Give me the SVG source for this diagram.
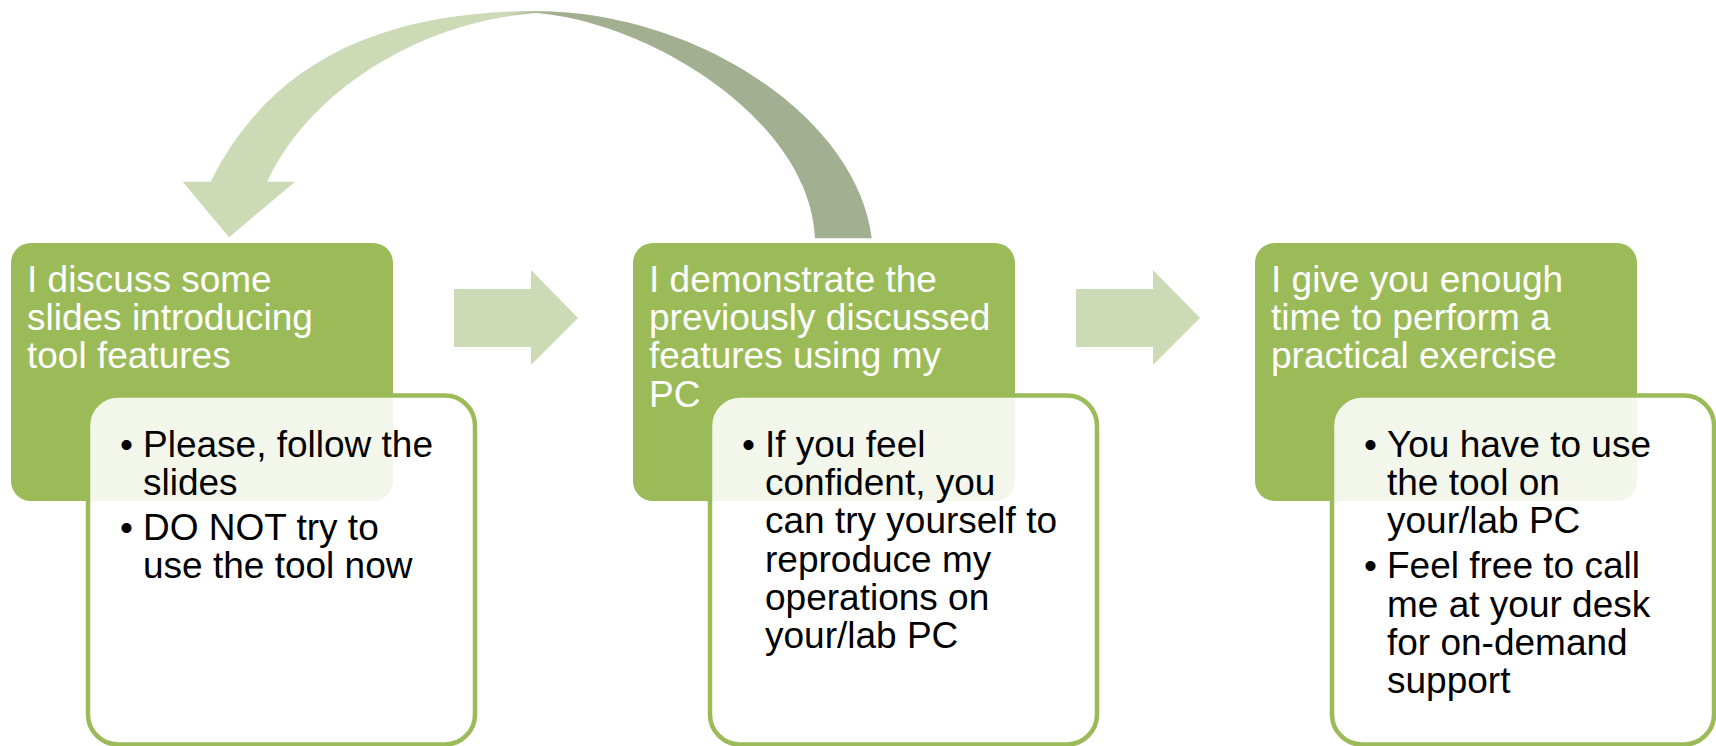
<svg xmlns="http://www.w3.org/2000/svg" width="1716" height="746" viewBox="0 0 1716 746">
  <defs>
    <style>
      .head { fill: #9BBB59; }
      .card { fill: #FFFFFF; fill-opacity: 0.88; stroke: #9BBB59; stroke-width: 4.5; }
      .flow { fill: #CDDAB6; }
      .ht { font-family: "Liberation Sans", Arial, sans-serif; font-size: 37px; fill: #FFFFFF; }
      .bt { font-family: "Liberation Sans", Arial, sans-serif; font-size: 37px; fill: #000000; }
    </style>
    <linearGradient id="loopFill" gradientUnits="userSpaceOnUse" x1="505" y1="0" x2="548" y2="0">
      <stop offset="0" stop-color="#CDDAB6"/>
      <stop offset="1" stop-color="#A2AF91"/>
    </linearGradient>
  </defs>

  <!-- connectors: loop-back arrow and the two forward arrows -->
  <g id="connectors">
    <path id="loop-back" fill="url(#loopFill)" d="M871.7,238.3 C858,120 700,11.7 536,11 C375.7,11.7 268.7,65.2 210.7,181.7 L182.7,181.7 L229,237.3 L295,181.7 L267.3,181.7 C310,90 420,22 536,13 C650,22 810,120 815,238.3 Z"/>
    <path id="step1-to-step2" class="flow" d="M454,289 L531,289 L531,270 L578,318 L531,365 L531,347 L454,347 Z"/>
    <path id="step2-to-step3" class="flow" d="M1076,289 L1153,289 L1153,270 L1200,318 L1153,365 L1153,347 L1076,347 Z"/>
  </g>

  <!-- step 1 -->
  <g id="step1">
    <rect class="head" x="11" y="243" width="382" height="258" rx="20"/>
    <text class="ht">
      <tspan x="27" y="291.7">I discuss some</tspan>
      <tspan x="27" y="330">slides introducing</tspan>
      <tspan x="27" y="368.3">tool features</tspan>
    </text>
  </g>
  <g id="detail1">
    <rect class="card" x="88" y="395.5" width="387" height="349" rx="30"/>
    <text class="bt">
      <tspan x="120" y="456.7">•</tspan><tspan x="143" y="456.7">Please, follow the</tspan>
      <tspan x="143" y="495">slides</tspan>
      <tspan x="120" y="540">•</tspan><tspan x="143" y="540">DO NOT try to</tspan>
      <tspan x="143" y="578.3">use the tool now</tspan>
    </text>
  </g>

  <!-- step 2 -->
  <g id="step2">
    <rect class="head" x="633" y="243" width="382" height="258" rx="20"/>
    <text class="ht">
      <tspan x="649" y="291.7">I demonstrate the</tspan>
      <tspan x="649" y="330">previously discussed</tspan>
      <tspan x="649" y="368.3">features using my</tspan>
      <tspan x="649" y="406.6">PC</tspan>
    </text>
  </g>
  <g id="detail2">
    <rect class="card" x="710" y="395.5" width="387" height="349" rx="30"/>
    <text class="bt">
      <tspan x="742" y="456.7">•</tspan><tspan x="765" y="456.7">If you feel</tspan>
      <tspan x="765" y="495">confident, you</tspan>
      <tspan x="765" y="533.3">can try yourself to</tspan>
      <tspan x="765" y="571.6">reproduce my</tspan>
      <tspan x="765" y="610">operations on</tspan>
      <tspan x="765" y="648.3">your/lab PC</tspan>
    </text>
  </g>

  <!-- step 3 -->
  <g id="step3">
    <rect class="head" x="1255" y="243" width="382" height="258" rx="20"/>
    <text class="ht">
      <tspan x="1271" y="291.7">I give you enough</tspan>
      <tspan x="1271" y="330">time to perform a</tspan>
      <tspan x="1271" y="368.3">practical exercise</tspan>
    </text>
  </g>
  <g id="detail3">
    <rect class="card" x="1332" y="395.5" width="382" height="349" rx="30"/>
    <text class="bt">
      <tspan x="1364" y="456.7">•</tspan><tspan x="1387" y="456.7">You have to use</tspan>
      <tspan x="1387" y="495">the tool on</tspan>
      <tspan x="1387" y="533.3">your/lab PC</tspan>
      <tspan x="1364" y="578.3">•</tspan><tspan x="1387" y="578.3">Feel free to call</tspan>
      <tspan x="1387" y="616.6">me at your desk</tspan>
      <tspan x="1387" y="655">for on-demand</tspan>
      <tspan x="1387" y="693.3">support</tspan>
    </text>
  </g>
</svg>
